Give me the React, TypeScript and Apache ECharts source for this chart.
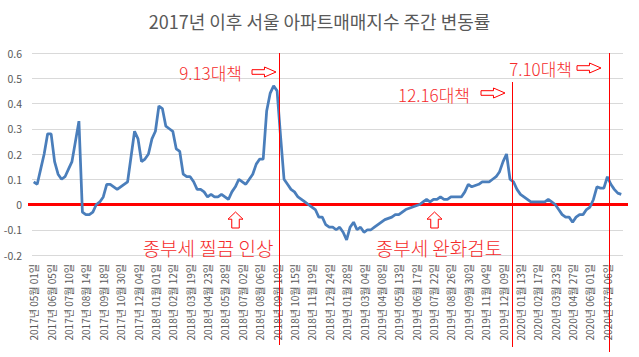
import React, { useEffect, useRef } from "react";
import * as echarts from "echarts";

const chartTitle = "2017년 이후 서울 아파트매매지수 주간 변동률";

// tick label dates (every 5th weekly category)
const tickDates = [
  "2017-05-01", "2017-06-05", "2017-07-10", "2017-08-14", "2017-09-18", "2017-10-30", "2017-12-04",
  "2018-01-01", "2018-02-12", "2018-03-19", "2018-04-23", "2018-05-28", "2018-07-02", "2018-08-06",
  "2018-09-10", "2018-10-15", "2018-11-19", "2018-12-24", "2019-01-28", "2019-03-04", "2019-04-08",
  "2019-05-13", "2019-06-17", "2019-07-22", "2019-08-26", "2019-09-30", "2019-11-04", "2019-12-09",
  "2020-01-13", "2020-02-17", "2020-03-23", "2020-04-27", "2020-06-01", "2020-07-06",
];

// weekly change rates (%)
const rates2017 = [
  0.09, 0.08, 0.14, 0.2, 0.28, 0.28, 0.17, 0.12, 0.1, 0.11, 0.14, 0.17, 0.25, 0.33, -0.03, -0.04, -0.04,
  -0.03, 0.0, 0.01, 0.03, 0.08, 0.08, 0.07, 0.06, 0.07, 0.08, 0.09, 0.19, 0.29, 0.26, 0.17, 0.18, 0.2, 0.26,
];
const rates2018 = [
  0.29, 0.39, 0.38, 0.31, 0.3, 0.29, 0.22, 0.21, 0.12, 0.11, 0.11, 0.09, 0.06, 0.06, 0.05, 0.03, 0.04, 0.03,
  0.03, 0.04, 0.03, 0.02, 0.05, 0.07, 0.1, 0.09, 0.08, 0.1, 0.12, 0.16, 0.18, 0.18, 0.37, 0.44, 0.47, 0.45,
  0.27, 0.1, 0.08, 0.06, 0.05, 0.03, 0.02, 0.01, 0.0, -0.01, -0.02, -0.05, -0.05, -0.08, -0.09, -0.09,
];
const rates2019 = [
  -0.1, -0.09, -0.11, -0.14, -0.09, -0.07, -0.1, -0.09, -0.11, -0.1, -0.1, -0.09, -0.08, -0.07, -0.06,
  -0.055, -0.05, -0.04, -0.04, -0.03, -0.02, -0.015, -0.01, -0.005, 0.0, 0.01, 0.02, 0.01, 0.02, 0.02, 0.03,
  0.02, 0.02, 0.03, 0.03, 0.03, 0.03, 0.05, 0.08, 0.07, 0.075, 0.08, 0.09, 0.09, 0.09, 0.1, 0.11, 0.13,
  0.17, 0.2, 0.1, 0.09,
];
const rates2020 = [
  0.06, 0.04, 0.03, 0.02, 0.01, 0.01, 0.01, 0.01, 0.01, 0.02, 0.01, 0.0, -0.02, -0.04, -0.05, -0.05, -0.07,
  -0.05, -0.04, -0.04, -0.02, -0.01, 0.02, 0.07, 0.065, 0.065, 0.11, 0.08, 0.06, 0.045, 0.04,
];

// policy annotations: label and the category index after which the marker line falls
const policyLabels = ["9.13대책", "12.16대책", "7.10대책"];
const policyAfterIndex = [70, 137, 165];
const noteLabels = ["종부세 찔끔 인상", "종부세 완화검토"];

const DAY = 86400000;
const pad = (n: number) => (n < 10 ? "0" + n : "" + n);
const fmt = (t: number) => {
  const d = new Date(t);
  return `${d.getUTCFullYear()}년 ${pad(d.getUTCMonth() + 1)}월 ${pad(d.getUTCDate())}일`;
};
const toUTC = (s: string) => {
  const [y, m, d] = s.split("-").map(Number);
  return Date.UTC(y, m - 1, d);
};

function buildCategories(): string[] {
  const out: string[] = [];
  for (let k = 0; k < tickDates.length; k++) {
    const start = toUTC(tickDates[k]);
    const next = k < tickDates.length - 1 ? toUTC(tickDates[k + 1]) : start + 35 * DAY;
    const gapDays = (next - start) / DAY;
    for (let j = 0; j < 5; j++) {
      out.push(fmt(start + Math.round((j * gapDays) / 5) * DAY));
    }
  }
  return out;
}

const FONT = '"Noto Sans CJK KR", "Noto Sans", sans-serif';
const RED = "#ff0000";
const TEXT_RED = "#f52a2a";

function rightArrow(x0: number, y0: number, w: number, h: number) {
  const hx = x0 + w * 0.52;
  return [
    [x0, y0 + h * 0.27], [hx, y0 + h * 0.27], [hx, y0], [x0 + w, y0 + h / 2],
    [hx, y0 + h], [hx, y0 + h * 0.73], [x0, y0 + h * 0.73],
  ];
}
function upArrow(x0: number, y0: number, w: number, h: number) {
  const hy = y0 + h * 0.45;
  return [
    [x0 + w / 2, y0], [x0 + w, hy], [x0 + w * 0.75, hy], [x0 + w * 0.75, y0 + h],
    [x0 + w * 0.25, y0 + h], [x0 + w * 0.25, hy], [x0, hy],
  ];
}

export default function App() {
  const ref = useRef<HTMLDivElement>(null);
  useEffect(() => {
    document.body.style.margin = "0";
    if (!ref.current) return;
    const chart = echarts.init(ref.current, undefined, { renderer: "svg" });
    const categories = buildCategories();
    const values = [...rates2017, ...rates2018, ...rates2019, ...rates2020];
    chart.setOption({
      animation: false,
      title: {
        text: chartTitle,
        left: "center",
        top: 12,
        padding: 0,
        textStyle: { fontSize: 18, fontWeight: "normal", color: "#595959", fontFamily: FONT },
      },
      grid: { left: 32, right: 16, top: 53, bottom: 102 },
      xAxis: {
        type: "category",
        data: categories,
        boundaryGap: true,
        axisLine: { show: false },
        axisTick: { show: false },
        splitLine: { show: false },
        axisLabel: {
          interval: 4,
          rotate: 90,
          fontSize: 10,
          color: "#595959",
          margin: 9,
          fontFamily: FONT,
        },
      },
      yAxis: {
        type: "value",
        min: -0.2,
        max: 0.6,
        interval: 0.1,
        axisLine: { show: false },
        axisTick: { show: false },
        splitLine: { lineStyle: { color: "#d9d9d9", width: 1 } },
        axisLabel: {
          fontSize: 10.5,
          color: "#595959",
          margin: 10,
          fontFamily: FONT,
          formatter: (v: number) => String(Math.round(v * 10) / 10),
        },
      },
      series: [
        {
          type: "line",
          data: values,
          symbol: "none",
          z: 5,
          lineStyle: { color: "#4a7ebb", width: 2.75 },
          itemStyle: { color: "#4a7ebb" },
        },
      ],
    });

    const px = (i: number) => chart.convertToPixel({ xAxisIndex: 0 }, i) as number;
    const y0 = chart.convertToPixel({ yAxisIndex: 0 }, 0) as number;
    const lineTops = [53, 82, 53];
    const lineBottoms = [345, 347, 352];
    const graphics: any[] = [
      {
        type: "line",
        z: 3,
        shape: { x1: 28, y1: y0, x2: 628, y2: y0 },
        style: { stroke: RED, lineWidth: 3 },
      },
    ];
    policyAfterIndex.forEach((idx, k) => {
      const x = Math.round((px(idx) + px(idx + 1)) / 2) + 0.5;
      graphics.push({
        type: "line",
        z: 6,
        shape: { x1: x, y1: lineTops[k], x2: x, y2: lineBottoms[k] },
        style: { stroke: RED, lineWidth: 1 },
      });
    });
    const policyText = [
      { right: 242, y: 72, ax: 252, ay: 67 },
      { right: 470, y: 94, ax: 481, ay: 88 },
      { right: 572, y: 68, ax: 577, ay: 63 },
    ];
    policyLabels.forEach((t, k) => {
      const p = policyText[k];
      graphics.push({
        type: "text",
        z: 7,
        x: p.right,
        y: p.y,
        style: {
          text: t,
          fill: TEXT_RED,
          fontSize: 17,
          fontWeight: 300,
          fontFamily: FONT,
          align: "right",
          verticalAlign: "middle",
        },
      });
      graphics.push({
        type: "polygon",
        z: 7,
        shape: { points: rightArrow(p.ax, p.ay, 24, 10) },
        style: { fill: "#fff", stroke: RED, lineWidth: 1 },
      });
    });
    const notePos = [
      { cx: 208, y: 247, ax: 228 },
      { cx: 439, y: 247, ax: 427 },
    ];
    noteLabels.forEach((t, k) => {
      const p = notePos[k];
      graphics.push({
        type: "text",
        z: 7,
        x: p.cx,
        y: p.y,
        style: {
          text: t,
          fill: TEXT_RED,
          fontSize: 19,
          fontWeight: 300,
          fontFamily: FONT,
          align: "center",
          verticalAlign: "middle",
        },
      });
      graphics.push({
        type: "polygon",
        z: 7,
        shape: { points: upArrow(p.ax, 212, 15, 16) },
        style: { fill: "#fff", stroke: RED, lineWidth: 1 },
      });
    });
    chart.setOption({ graphic: graphics });
    return () => chart.dispose();
  }, []);
  return <div ref={ref} style={{ width: 639, height: 357 }} />;
}
